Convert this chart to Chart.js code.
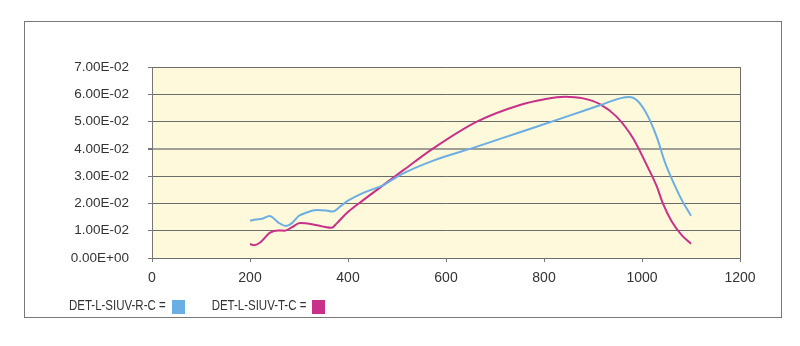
<!DOCTYPE html>
<html>
<head>
<meta charset="utf-8">
<script src="https://cdn.jsdelivr.net/npm/chart.js@4"></script>
<style>
  html, body { margin: 0; padding: 0; background: #fff; }
  #wrap { width: 800px; height: 346px; }
</style>
</head>
<body>
<div id="wrap"><canvas id="chart" width="800" height="346"></canvas></div>
<script>
// Series data
const rcWavelength = [200, 212, 225, 240, 258, 273, 285, 300, 312, 336, 355, 369, 385, 400, 431, 472, 506, 574, 663, 751, 846, 914, 955, 975, 989, 1009, 1030, 1047, 1064, 1081, 1100];
const rcValues = [0.0137, 0.0141, 0.0144, 0.0154, 0.0130, 0.0117, 0.0127, 0.0155, 0.0164, 0.0176, 0.0174, 0.0170, 0.0190, 0.0210, 0.0239, 0.0267, 0.0304, 0.0357, 0.0408, 0.0461, 0.0518, 0.0560, 0.0585, 0.0590, 0.0579, 0.0530, 0.0444, 0.0350, 0.0277, 0.0213, 0.0155];

const tcWavelength = [200, 208, 220, 241, 258, 271, 285, 302, 329, 350, 367, 377, 397, 431, 472, 513, 574, 663, 751, 799, 843, 880, 914, 948, 982, 1009, 1030, 1043, 1061, 1081, 1100];
const tcValues = [0.0051, 0.0047, 0.0056, 0.0093, 0.0101, 0.0100, 0.0112, 0.0128, 0.0123, 0.0115, 0.0111, 0.0127, 0.0164, 0.0212, 0.0267, 0.0322, 0.0402, 0.0500, 0.0561, 0.0581, 0.0591, 0.0585, 0.0564, 0.0518, 0.0438, 0.0343, 0.0263, 0.0198, 0.0133, 0.0084, 0.0052];

const seriesLabels = ['DET-L-SIUV-R-C =', 'DET-L-SIUV-T-C ='];
const seriesColors = ['#6aaee4', '#c8308a'];

const xTickValues = [0, 200, 400, 600, 800, 1000, 1200];
const xTickLabels = ['0', '200', '400', '600', '800', '1000', '1200'];
const yTickLabels = ['0.00E+00', '1.00E-02', '2.00E-02', '3.00E-02', '4.00E-02', '5.00E-02', '6.00E-02', '7.00E-02'];

function toPoints(xs, ys) {
    return xs.map(function(x, i) { return { x: x, y: ys[i] }; });
}

// Plot background, frame and outer border
const framePlugin = {
    id: 'frame',
    beforeDraw: function(chart) {
        const c = chart.ctx;
        const a = chart.chartArea;
        c.save();
        c.fillStyle = '#fdf9da';
        c.fillRect(a.left, a.top, a.right - a.left, a.bottom - a.top);
        c.restore();
    },
    afterDraw: function(chart) {
        const c = chart.ctx;
        const a = chart.chartArea;
        c.save();
        c.strokeStyle = '#6e6e6e';
        c.lineWidth = 1;
        c.beginPath();
        c.moveTo(Math.round(a.right) + 0.5, a.top);
        c.lineTo(Math.round(a.right) + 0.5, a.bottom);
        c.stroke();
        c.strokeStyle = '#777';
        c.strokeRect(24.5, 21.5, 757, 296);
        c.restore();
    }
};

// Legend with the label first and the colour box after it (text squeezed like a condensed face)
const textLegendPlugin = {
    id: 'textLegend',
    afterDraw: function(chart) {
        const c = chart.ctx;
        const squeeze = 0.82;
        c.save();
        c.font = '14px "Liberation Sans", Arial, sans-serif';
        c.textBaseline = 'alphabetic';
        let x = 69;
        chart.data.datasets.forEach(function(ds) {
            const w = c.measureText(ds.label).width * squeeze;
            c.save();
            c.translate(x, 310);
            c.scale(squeeze, 1);
            c.fillStyle = '#333';
            c.fillText(ds.label, 0, 0);
            c.restore();
            x += w + 6;
            c.fillStyle = ds.borderColor;
            c.fillRect(Math.round(x), 300, 13, 14);
            x += 13 + 27;
        });
        c.restore();
    }
};

const ctx = document.getElementById('chart').getContext('2d');
new Chart(ctx, {
    type: 'line',
    data: {
        datasets: [
            {
                label: seriesLabels[0],
                data: toPoints(rcWavelength, rcValues),
                borderColor: seriesColors[0],
                backgroundColor: seriesColors[0],
                borderWidth: 2,
                pointRadius: 0,
                cubicInterpolationMode: 'monotone',
                fill: false
            },
            {
                label: seriesLabels[1],
                data: toPoints(tcWavelength, tcValues),
                borderColor: seriesColors[1],
                backgroundColor: seriesColors[1],
                borderWidth: 2,
                pointRadius: 0,
                cubicInterpolationMode: 'monotone',
                fill: false
            }
        ]
    },
    options: {
        responsive: false,
        animation: false,
        layout: { padding: { left: 0, top: 67, right: 60, bottom: 0 } },
        plugins: {
            legend: { display: false },
            tooltip: { enabled: false }
        },
        scales: {
            x: {
                type: 'linear',
                min: 0,
                max: 1200,
                afterFit: function(scale) { scale.height = 88; },
                afterBuildTicks: function(scale) {
                    scale.ticks = xTickValues.map(function(v) { return { value: v }; });
                },
                grid: {
                    drawOnChartArea: false,
                    drawTicks: true,
                    tickLength: 4,
                    tickColor: '#777'
                },
                border: { display: true, color: '#6e6e6e' },
                ticks: {
                    padding: 8,
                    maxRotation: 0,
                    color: '#333',
                    font: { family: '"Liberation Sans", Arial, sans-serif', size: 14 },
                    callback: function(value, index) { return xTickLabels[index]; }
                }
            },
            y: {
                min: 0,
                max: 0.07,
                afterFit: function(scale) { scale.width = 152; },
                afterBuildTicks: function(scale) {
                    scale.ticks = yTickLabels.map(function(t, i) { return { value: i * 0.01 }; });
                },
                grid: {
                    drawTicks: true,
                    tickLength: 4,
                    color: function(c) {
                        return c.index === 4 ? '#a09f96' : '#6b6b6b';
                    },
                    lineWidth: function(c) {
                        return c.index === 4 ? 2 : 1;
                    },
                    tickColor: '#777'
                },
                border: { display: true, color: '#777' },
                ticks: {
                    padding: 19,
                    color: '#333',
                    font: { family: '"Liberation Sans", Arial, sans-serif', size: 13.5 },
                    callback: function(value, index) { return yTickLabels[index]; }
                }
            }
        }
    },
    plugins: [framePlugin, textLegendPlugin]
});
</script>
</body>
</html>
